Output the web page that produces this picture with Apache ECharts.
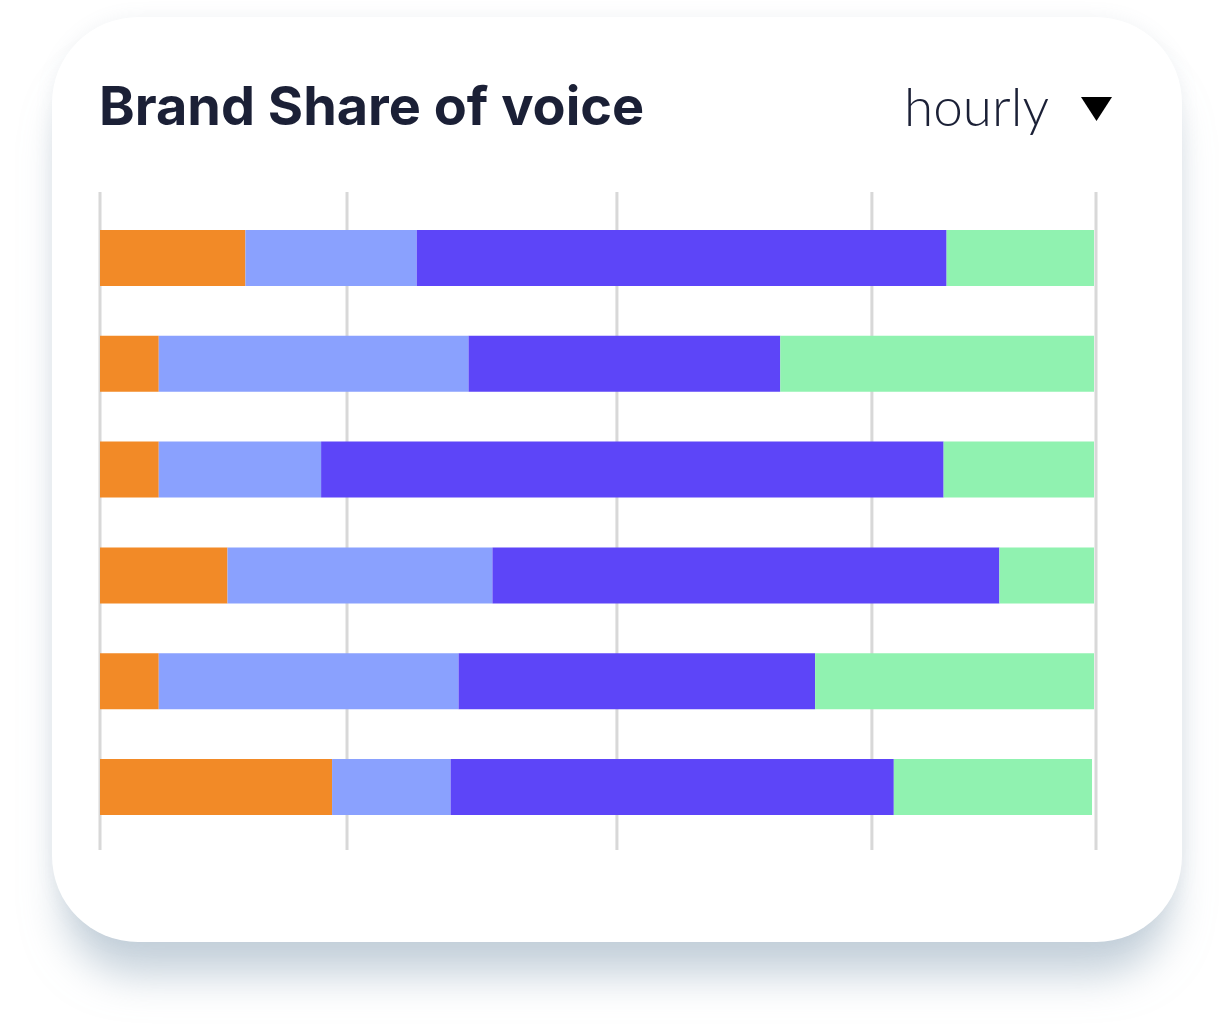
<!DOCTYPE html>
<html>
<head>
<meta charset="utf-8">
<script src="https://cdn.jsdelivr.net/npm/echarts@6/dist/echarts.min.js"></script>
<style>
  html, body { margin: 0; padding: 0; background: #ffffff; }
  #card {
    position: absolute; left: 52px; top: 17px; width: 1130px; height: 925px;
    background: #ffffff; border-radius: 86px;
    box-shadow: 0 45px 40px -12px rgba(150, 172, 190, 0.55), 0 0 18px rgba(120, 140, 160, 0.10);
  }
  #main { position: absolute; left: 0; top: 0; width: 1222px; height: 1036px; }
</style>
</head>
<body>
<div id="card"></div>
<div id="main"></div>
<script>
// rows top to bottom
var categories = ['1', '2', '3', '4', '5', '6'];
var orangeVals = [14.6, 5.9, 5.9, 12.8, 5.9, 23.3];
var lightBlueVals = [17.2, 31.1, 16.3, 26.6, 30.1, 11.9];
var purpleVals = [53.2, 31.3, 62.5, 50.9, 35.8, 44.5];
var greenVals = [14.8, 31.5, 15.1, 9.5, 28.0, 19.9];
// vertical guide lines (x values)
var gridVals = [0, 24.8, 51.9, 77.5, 100];

var chart = echarts.init(document.getElementById('main'), null, { renderer: 'canvas' });

function barSeries(name, data, color) {
  return {
    name: name,
    type: 'bar',
    stack: 'total',
    barWidth: 56,
    z: 3,
    itemStyle: { color: color },
    data: data
  };
}

var option = {
  backgroundColor: 'transparent',
  animation: false,
  title: [
    {
      text: 'Brand Share of voice',
      left: 94,
      top: 77,
      textStyle: { fontFamily: 'Inter', fontWeight: 700, fontSize: 54, color: '#1b2036' }
    },
    {
      text: 'hourly',
      right: 168,
      top: 77,
      textStyle: { fontFamily: 'Lato', fontWeight: 300, fontSize: 53, color: '#1b2036' }
    }
  ],
  graphic: [
    {
      type: 'polygon',
      shape: { points: [[1081, 97], [1112, 97], [1096.5, 121]] },
      style: { fill: '#000000' }
    }
  ],
  grid: { left: 100, right: 126, top: 205, bottom: 196 },
  xAxis: {
    type: 'value',
    min: 0,
    max: 100,
    show: false
  },
  yAxis: {
    type: 'category',
    inverse: true,
    data: categories,
    show: false
  },
  series: [
    {
      type: 'custom',
      z: 1,
      silent: true,
      data: gridVals.map(function (v) { return [v, 0]; }),
      encode: { x: 0, y: 1 },
      renderItem: function (params, api) {
        var x = api.coord([api.value(0), 0])[0];
        var cs = params.coordSys;
        return {
          type: 'line',
          shape: { x1: x, y1: cs.y - 13, x2: x, y2: cs.y + cs.height + 10 },
          style: { stroke: '#d8d8d8', lineWidth: 3 }
        };
      }
    },
    barSeries('A', orangeVals, '#f28a27'),
    barSeries('B', lightBlueVals, '#8aa1fe'),
    barSeries('C', purpleVals, '#5d45f8'),
    barSeries('D', greenVals, '#90f2b0')
  ]
};

chart.setOption(option);
</script>
</body>
</html>
